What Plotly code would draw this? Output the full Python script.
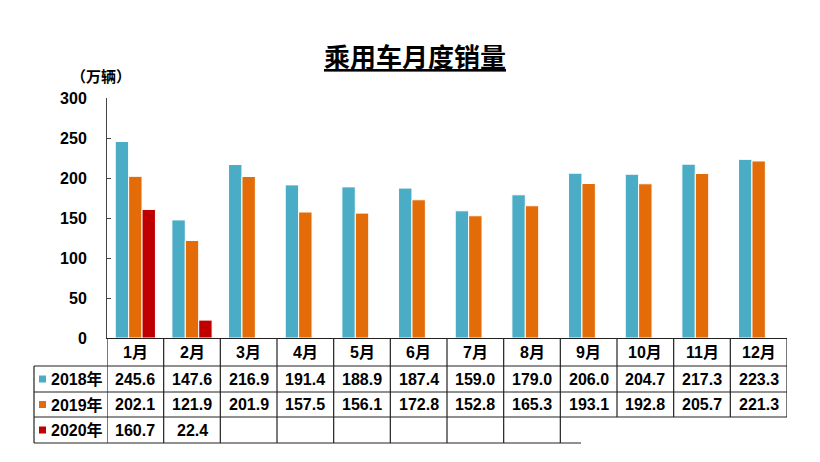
import plotly.graph_objects as go

months = ["1月", "2月", "3月", "4月", "5月", "6月", "7月", "8月", "9月", "10月", "11月", "12月"]
series_names = ["2018年", "2019年", "2020年"]
v2018 = [245.6, 147.6, 216.9, 191.4, 188.9, 187.4, 159.0, 179.0, 206.0, 204.7, 217.3, 223.3]
v2019 = [202.1, 121.9, 201.9, 157.5, 156.1, 172.8, 152.8, 165.3, 193.1, 192.8, 205.7, 221.3]
v2020 = [160.7, 22.4, None, None, None, None, None, None, None, None, None, None]
colors = ["#4BACC6", "#E36C09", "#C00000"]
yticks = [0, 50, 100, 150, 200, 250, 300]

W, H = 820, 462
L, R, T, B = 107, 787, 98, 338
pw, ph = R - L, B - T

def px_x(px):
    return (px - L) / pw

def px_y(py):
    return (B - py) / ph

FONT = "Liberation Sans, Arial, Noto Sans CJK SC"

fig = go.Figure()
for name, vals, c in zip(series_names, [v2018, v2019, v2020], colors):
    fig.add_trace(go.Bar(x=list(range(len(months))), y=vals, name=name,
                         marker=dict(color=c, line=dict(color="white", width=1))))

shapes = []
annotations = []
line_style = dict(color="#222222", width=1.2)

rows = [338, 366, 392, 417, 443]
n = len(months)
for i, y in enumerate(rows[1:], start=1):
    x1 = px_x(R)
    if i == 4:
        x1 = px_x(581)
    shapes.append(dict(type="line", xref="paper", yref="paper", x0=px_x(34), x1=x1,
                       y0=px_y(y), y1=px_y(y), line=line_style))
shapes.append(dict(type="line", xref="paper", yref="paper", x0=px_x(34), x1=px_x(34),
                   y0=px_y(366), y1=px_y(443), line=line_style))
for k in range(n + 1):
    xv = k - 0.5
    ybot = 443 if k <= 8 else 417
    shapes.append(dict(type="line", xref="x", yref="paper", x0=xv, x1=xv,
                       y0=px_y(338), y1=px_y(ybot), line=line_style))

tf = dict(family=FONT, size=16, color="black", weight="bold")
row_centers = [352, 379, 404.5, 430]
for i, m in enumerate(months):
    annotations.append(dict(x=i, y=px_y(row_centers[0]), xref="x", yref="paper", text=m,
                            showarrow=False, font=tf, xanchor="center", yanchor="middle"))
for r, (name, vals, c) in enumerate(zip(series_names, [v2018, v2019, v2020], colors)):
    yc = row_centers[r + 1]
    for i, v in enumerate(vals):
        if v is None:
            continue
        annotations.append(dict(x=i, y=px_y(yc), xref="x", yref="paper", text=f"{v:.1f}",
                                showarrow=False, font=tf, xanchor="center", yanchor="middle"))
    shapes.append(dict(type="rect", xref="paper", yref="paper", x0=px_x(39), x1=px_x(46),
                       y0=px_y(yc + 3.5), y1=px_y(yc - 3.5), fillcolor=c, line=dict(width=0)))
    annotations.append(dict(x=px_x(49), y=px_y(yc), xref="paper", yref="paper", text=name,
                            showarrow=False, font=tf, xanchor="left", yanchor="middle"))

annotations.append(dict(x=px_x(415), y=px_y(58), xref="paper", yref="paper",
                        text="<u>乘用车月度销量</u>", showarrow=False,
                        font=dict(family=FONT, size=26, color="black", weight="bold"),
                        xanchor="center", yanchor="middle"))
annotations.append(dict(x=px_x(101), y=px_y(76), xref="paper", yref="paper",
                        text="（万辆）", showarrow=False,
                        font=dict(family=FONT, size=15, color="black", weight="bold"),
                        xanchor="center", yanchor="middle"))

fig.update_layout(
    width=W, height=H,
    margin=dict(l=L, r=W - R, t=T, b=H - B, pad=0),
    paper_bgcolor="white", plot_bgcolor="white",
    barmode="group", bargap=0.29, bargroupgap=0,
    showlegend=False,
    shapes=shapes, annotations=annotations,
    xaxis=dict(range=[-0.5, n - 0.5], showticklabels=False, showgrid=False, zeroline=False,
               showline=True, linecolor="#222222", linewidth=1.2, ticks=""),
    yaxis=dict(range=[0, 300], tickvals=yticks, showgrid=False, zeroline=False,
               showline=True, linecolor="#444444", linewidth=1, ticks="inside", ticklen=4,
               tickcolor="#444444", ticklabelstandoff=16,
               tickfont=dict(family=FONT, size=16, color="black", weight="bold")),
)
fig.write_html("out.html")
